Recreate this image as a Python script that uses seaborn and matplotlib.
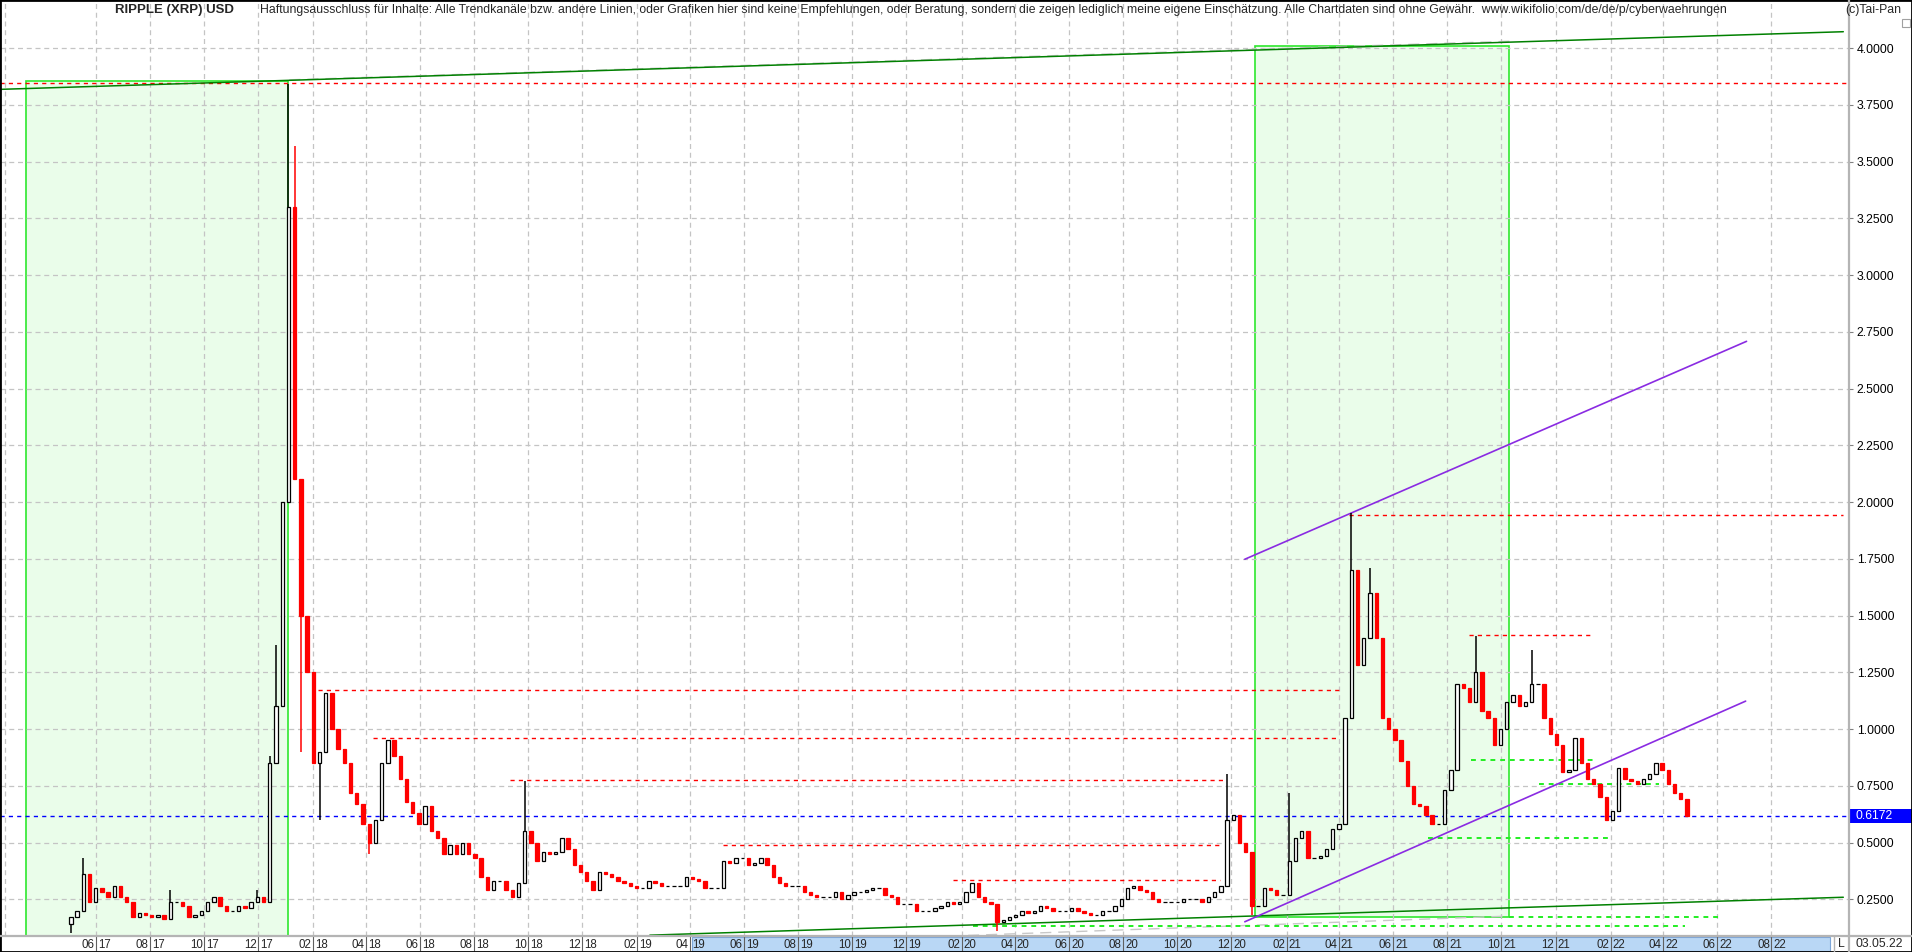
import matplotlib
matplotlib.use("Agg")
import numpy as np
import pandas as pd
import matplotlib.pyplot as plt
import matplotlib.dates as mdates
import matplotlib.transforms as mtransforms
from matplotlib.patches import Rectangle
from matplotlib.lines import Line2D
import seaborn as sns

# weekly candles (open = previous close)
FIRST_WEEK = "2017-05-04"
FIRST_OPEN = 0.14
close = [
    0.17, 0.20, 0.36, 0.24, 0.30, 0.28, 0.26, 0.31, 0.26, 0.24,
    0.17, 0.19, 0.18, 0.17, 0.18, 0.165, 0.24, 0.24, 0.22, 0.17,
    0.18, 0.20, 0.24, 0.26, 0.22, 0.20, 0.20, 0.22, 0.21, 0.24,
    0.26, 0.24, 0.85, 1.10, 2.00, 3.30, 2.10, 1.50, 1.25, 0.85,
    0.90, 1.16, 1.00, 0.91, 0.85, 0.72, 0.67, 0.58, 0.50, 0.60,
    0.85, 0.95, 0.88, 0.78, 0.68, 0.63, 0.58, 0.66, 0.55, 0.52,
    0.45, 0.49, 0.45, 0.50, 0.45, 0.43, 0.35, 0.29, 0.33, 0.33,
    0.29, 0.26, 0.32, 0.55, 0.50, 0.42, 0.46, 0.45, 0.46, 0.52,
    0.47, 0.40, 0.37, 0.33, 0.29, 0.37, 0.36, 0.35, 0.33, 0.32,
    0.31, 0.30, 0.30, 0.33, 0.32, 0.31, 0.31, 0.31, 0.31, 0.35,
    0.34, 0.33, 0.30, 0.30, 0.30, 0.42, 0.41, 0.43, 0.43, 0.40,
    0.41, 0.43, 0.40, 0.35, 0.32, 0.31, 0.31, 0.31, 0.28, 0.27,
    0.26, 0.26, 0.26, 0.28, 0.25, 0.27, 0.28, 0.28, 0.29, 0.30,
    0.30, 0.27, 0.26, 0.23, 0.23, 0.23, 0.20, 0.20, 0.20, 0.21,
    0.22, 0.24, 0.23, 0.24, 0.28, 0.32, 0.26, 0.24, 0.23, 0.15,
    0.16, 0.17, 0.18, 0.20, 0.19, 0.20, 0.22, 0.21, 0.20, 0.20,
    0.20, 0.21, 0.20, 0.19, 0.18, 0.18, 0.20, 0.20, 0.22, 0.25,
    0.30, 0.31, 0.29, 0.28, 0.25, 0.24, 0.24, 0.24, 0.24, 0.25,
    0.25, 0.25, 0.24, 0.26, 0.28, 0.31, 0.60, 0.62, 0.50, 0.46,
    0.22, 0.22, 0.30, 0.29, 0.27, 0.27, 0.42, 0.52, 0.55, 0.43,
    0.43, 0.44, 0.47, 0.56, 0.58, 1.05, 1.70, 1.28, 1.40, 1.60,
    1.40, 1.05, 1.00, 0.95, 0.86, 0.75, 0.67, 0.66, 0.62, 0.58,
    0.58, 0.73, 0.82, 1.20, 1.18, 1.12, 1.25, 1.08, 1.05, 0.93,
    1.00, 1.12, 1.15, 1.10, 1.12, 1.20, 1.20, 1.05, 0.98, 0.93,
    0.81, 0.82, 0.96, 0.85, 0.78, 0.76, 0.70, 0.60, 0.64, 0.83,
    0.78, 0.77, 0.76, 0.78, 0.80, 0.85, 0.82, 0.76, 0.72, 0.69, 0.6172,
]
# notable wicks (week index -> extreme)
hi_idx = [2, 16, 30, 32, 33, 35, 36, 73, 186, 196, 206, 209, 226, 235]
hi_val = [0.43, 0.29, 0.29, 0.88, 1.37, 3.84, 3.57, 0.77, 0.80, 0.72, 1.95, 1.71, 1.41, 1.35]
lo_idx = [0, 37, 40, 48, 149, 190]
lo_val = [0.10, 0.90, 0.60, 0.45, 0.11, 0.18]

LAST_PRICE = 0.6172
y_ticks = [0.25, 0.5, 0.75, 1.0, 1.25, 1.5, 1.75, 2.0, 2.25, 2.5, 2.75, 3.0, 3.25, 3.5, 3.75, 4.0]

# drawn trend lines / levels (start date, value, end date, value)
green_trends = [("2017-02-13", 3.818, "2022-10-21", 4.072), ("2019-02-15", 0.092, "2022-10-21", 0.259)]
gray_trends = [("2018-01-05", 3.86, "2021-10-10", 4.03), ("2020-01-19", 0.088, "2021-10-10", 0.176)]
purple_channel = [("2020-12-16", 1.748, "2022-07-04", 2.708), ("2020-12-16", 0.151, "2022-07-03", 1.123)]
red_levels = [(3.846, "2017-02-13", "2022-10-28"), (1.943, "2021-04-12", "2022-10-21"),
              (1.413, "2021-08-26", "2022-01-09"), (1.17, "2018-02-06", "2021-04-04"),
              (0.959, "2018-04-09", "2021-03-29"), (0.775, "2018-09-11", "2020-11-21"),
              (0.489, "2019-05-08", "2020-11-18"), (0.333, "2020-01-22", "2020-11-18")]
green_levels = [(0.132, "2020-02-14", "2022-04-26"), (0.173, "2021-10-09", "2022-06-04"),
                (0.518, "2021-07-10", "2022-01-30"), (0.862, "2021-08-28", "2022-01-13"),
                (0.758, "2021-11-12", "2022-03-27")]
green_boxes = [("2017-03-15", "2018-01-04", 0.0, 3.857), ("2020-12-28", "2021-10-09", 0.17, 4.01)]

TITLE = "RIPPLE (XRP) USD"
DISCLAIMER = ("Haftungsausschluss für Inhalte: Alle Trendkanäle bzw. andere Linien, oder Grafiken hier sind keine "
              "Empfehlungen, oder Beratung, sondern die zeigen lediglich meine eigene Einschätzung. Alle Chartdaten "
              "sind ohne Gewähr.  www.wikifolio.com/de/de/p/cyberwaehrungen")

sns.set_theme(style="white")
plt.rcParams["font.family"] = ["Liberation Sans", "DejaVu Sans"]

W, H = 1912, 952
fig = plt.figure(figsize=(W / 100, H / 100), dpi=100)
ax = fig.add_axes([0, 16 / H, 1849 / W, 936 / H])


def px(x, y):
    return x / W, 1 - y / H


def dn(s):
    return mdates.date2num(pd.Timestamp(s))


# view range
ref = dn("2017-06-01")
ax.set_xlim(ref - 107.8, ref + 1974.4)
ax.set_ylim(0.0883, 4.2117)

# grid
ax.set_axisbelow(True)
ax.grid(True, color="#c4c4c4", linestyle=(0, (4, 3)), linewidth=0.9)
ax.plot([0.0027, 0.0027], [0, 1], transform=ax.transAxes, color="#c4c4c4",
        linestyle=(0, (4, 3)), linewidth=0.9, zorder=0.5)

# green boxes
for d0, d1, v0, v1 in green_boxes:
    lo_v = max(v0, ax.get_ylim()[0] - 0.05)
    ax.add_patch(Rectangle((dn(d0), lo_v), dn(d1) - dn(d0), v1 - lo_v, facecolor="#eafdea",
                           edgecolor="#2ee82e", linewidth=1.2, zorder=0.2))

# levels
for v, d0, d1 in red_levels:
    ax.plot([dn(d0), dn(d1)], [v, v], color="#ff0000", linestyle=(0, (3, 3)), linewidth=1, zorder=2)
for v, d0, d1 in green_levels:
    ax.plot([dn(d0), dn(d1)], [v, v], color="#22ee22", linestyle=(0, (2.5, 2.5)), linewidth=1.4, zorder=2)
ax.axhline(LAST_PRICE, color="#0000ff", linestyle=(0, (3, 3)), linewidth=1, zorder=2)

for d0, v0, d1, v1 in gray_trends:
    ax.plot([dn(d0), dn(d1)], [v0, v1], color="#c8c8c8", linestyle=(0, (8, 5)), linewidth=1.0, zorder=1.5)
for d0, v0, d1, v1 in green_trends:
    sns.lineplot(x=[dn(d0), dn(d1)], y=[v0, v1], ax=ax, color="#008000", linewidth=1.1, zorder=2.5)
for d0, v0, d1, v1 in purple_channel:
    sns.lineplot(x=[dn(d0), dn(d1)], y=[v0, v1], ax=ax, color="#8a2be2", linewidth=1.2, zorder=2.5)

# candles
dates = pd.date_range(FIRST_WEEK, periods=len(close), freq="7D")
x = mdates.date2num(dates)
c = np.array(close)
o = np.concatenate([[FIRST_OPEN], c[:-1]])
hi = np.maximum(o, c)
lo = np.minimum(o, c)
hi[hi_idx] = np.maximum(hi[hi_idx], hi_val)
lo[lo_idx] = np.minimum(lo[lo_idx], lo_val)
up = c >= o
ax.vlines(x, lo, hi, colors=np.where(up, "black", "#ff0000"), linewidth=1.1, zorder=3)
ax.bar(x[up], (c - o)[up], bottom=o[up], width=3.8, facecolor="white", edgecolor="black",
       linewidth=0.9, zorder=4)
ax.bar(x[~up], (o - c)[~up], bottom=c[~up], width=3.8, facecolor="#ff0000", edgecolor="#ff0000",
       linewidth=0.9, zorder=4)

# axes styling
for s in ["left", "top", "bottom", "right"]:
    ax.spines[s].set_visible(False)
ax.yaxis.tick_right()
ax.set_yticks(y_ticks)
ax.set_yticklabels([f"{t:.4f}" for t in y_ticks])
ax.tick_params(axis="y", right=True, length=3, width=0.8, color="#808080", pad=2.5,
               labelsize=8.8, labelcolor="#000000")
ax.set_ylabel("")
ax.set_xlabel("")

months = pd.date_range("2017-06-01", "2022-08-01", freq="2MS")
ax.set_xticks(mdates.date2num(months))
ax.set_xticklabels([])
ax.tick_params(axis="x", bottom=True, direction="out", length=10.5, width=0.8, color="#606060")
xt = ax.get_xaxis_transform()
left_t = mtransforms.offset_copy(xt, fig=fig, x=-1.5, y=0, units="dots")
right_t = mtransforms.offset_copy(xt, fig=fig, x=2.0, y=0, units="dots")
for m in months:
    xm = mdates.date2num(m)
    ax.text(xm, -8.5 / 936, m.strftime("%m"), transform=left_t, ha="right", va="center",
            fontsize=8.3, clip_on=False)
    ax.text(xm, -8.5 / 936, m.strftime("%y"), transform=right_t, ha="left", va="center",
            fontsize=8.3, clip_on=False)

# bottom bar
fig.add_artist(Rectangle(px(692, 951), (1830 - 692) / W, 14 / H, transform=fig.transFigure,
                         facecolor="#b9d7f5", edgecolor="#7da6d8", linewidth=0.8, zorder=-1))
fig.add_artist(Line2D([0, 1], [1 - 936 / H] * 2, transform=fig.transFigure, color="#b4b4b4", linewidth=1.6))
fig.add_artist(Line2D([1849 / W] * 2, [0, 1], transform=fig.transFigure, color="#b4b4b4", linewidth=1.6))
fig.add_artist(Line2D([1834 / W] * 2, [0, 1 - 936 / H], transform=fig.transFigure, color="#b4b4b4", linewidth=1))
fig.text(*px(1841, 944), "L", ha="center", va="center", fontsize=8.8)
fig.text(*px(1855, 944), "03.05.22", ha="left", va="center", fontsize=8.8)

# last price box
fig.add_artist(Rectangle(px(1850, 823), 62 / W, 14 / H, transform=fig.transFigure,
                         facecolor="#0000ff", edgecolor="none"))
fig.text(*px(1855, 816), f"{LAST_PRICE:.4f}", ha="left", va="center", fontsize=8.8, color="white")

# header texts
fig.text(*px(115, 10), TITLE, ha="left", va="center", fontsize=9.5, fontweight="bold")
fig.text(*px(260, 10), DISCLAIMER, ha="left", va="center", fontsize=8.85)
fig.text(*px(1845, 10), "(c)Tai-Pan", ha="left", va="center", fontsize=8.8)
fig.add_artist(Rectangle(px(1902, 27), 8 / W, 8 / H, transform=fig.transFigure,
                         facecolor="white", edgecolor="#a0a0a0", linewidth=0.8))

# outer frame
fig.add_artist(Rectangle((0, 0), 1, 1, transform=fig.transFigure, fill=False,
                         edgecolor="black", linewidth=2))

fig.savefig("out.png", dpi=100)
